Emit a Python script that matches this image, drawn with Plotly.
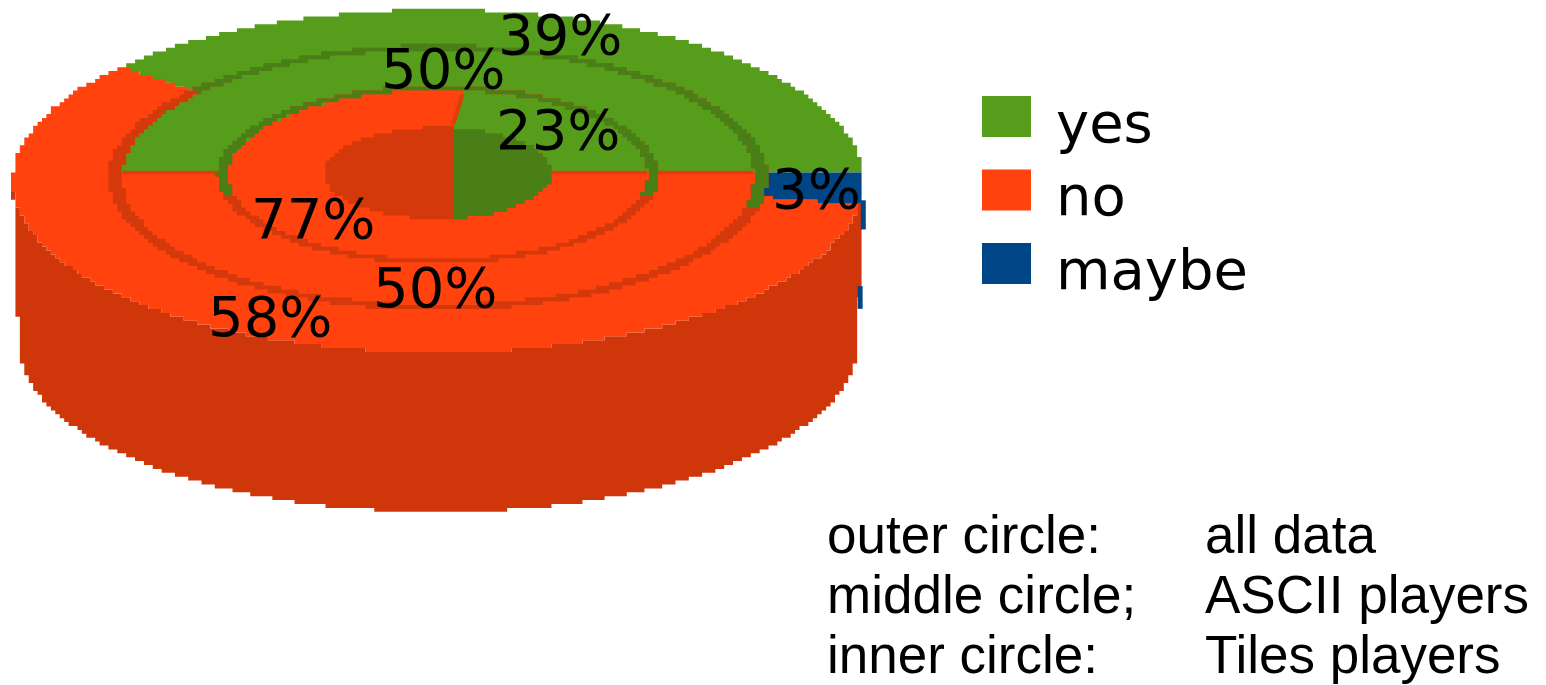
import numpy as np
import plotly.graph_objects as go

# ---- data ----
categories = ["yes", "no", "maybe"]
outer_values = [39, 58, 3]
middle_values = [50, 50, 0]
inner_values = [23, 77, 0]
note_left = ["outer circle:", "middle circle;", "inner circle:"]
note_right = ["all data", "ASCII players", "Tiles players"]

# ---- style ----
GREEN, RED, BLUE = "#579d1c", "#ff420e", "#004586"
DK_GREEN, DK_RED, WALL, CUT = "#4a7f17", "#d4390b", "#cf370a", "#e23c0c"
colors = {"yes": GREEN, "no": RED, "maybe": BLUE}

# ---- projection of the flat ring plane onto the picture ----
CX, CY, A, B, K = 438.0, 172.5, 171.0, 425.0, 0.0496
BOT_CY, BOT_A, BOT_B = 334.6, 168.6, 419.0
GX, GY, X0 = 4.43, 3.9, 11.0
R_HOLE, R_IN, R_MID, R_OUT = 0.268, 0.507, 0.758, 1.0
R_UNDER = 0.2
BAND = {R_IN: (0.492, 0.520), R_MID: (0.742, 0.775)}
EDGE_ANGLE = 92.8  # where the rim is widest


def project(deg, r, cy=CY, a=A, b=B):
    t = np.radians(deg)
    u, v = r * np.sin(t), -r * np.cos(t)
    w = 1 - K * v
    return CX + b * u / w, cy + a * v / w


def stair(x, y):
    xs = X0 + np.round((np.asarray(x) - X0) / GX) * GX
    ys = CY + np.round((np.asarray(y) - CY) / GY) * GY
    ox, oy = [xs[0]], [ys[0]]
    for px, py in zip(xs[1:], ys[1:]):
        if px != ox[-1] and py != oy[-1]:
            ox.append(px)
            oy.append(oy[-1])
        if px != ox[-1] or py != oy[-1]:
            ox.append(px)
            oy.append(py)
    return ox, oy


fig = go.Figure()


def poly(x, y, color, snap=True):
    if snap:
        x, y = stair(x, y)
    x, y = list(x), list(y)
    fig.add_trace(go.Scatter(x=x + [x[0]], y=y + [y[0]], mode="lines", fill="toself",
                             fillcolor=color, line=dict(width=0, color=color, simplify=False),
                             hoverinfo="skip", showlegend=False))


def wedge(a0, a1, r0, r1, color):
    ang = np.arange(a0, a1 + 0.1, 0.2)
    rad = np.linspace(r1, r0, 120)
    xo, yo = project(ang, r1)
    xe, ye = project(np.full(120, a1), rad)
    xi, yi = project(ang[::-1], r0)
    xs, ys = project(np.full(120, a0), rad[::-1])
    poly(np.r_[xo, xe, xi, xs], np.r_[yo, ye, yi, ys], color)


def cut(a, r0, r1, width=3.5, color=CUT):
    x0, y0 = project(a, r0)
    x1, y1 = project(a, r1)
    fig.add_trace(go.Scatter(x=[x0, x1], y=[y0, y1], mode="lines",
                             line=dict(color=color, width=width),
                             hoverinfo="skip", showlegend=False))


ang_all = np.arange(-180, 180.1, 0.2)

# side wall
ft = np.arange(EDGE_ANGLE, 360 - EDGE_ANGLE + 0.1, 0.2)
tx, ty = project(ft, R_OUT)
bx, by = project(ft[::-1], R_OUT, BOT_CY, BOT_A, BOT_B)
ts = np.linspace(0, 1, 60)
lx = tx[-1] + ts * (bx[0] - tx[-1])
ly = ty[-1] + ts * (by[0] - ty[-1])
rx = bx[-1] + ts * (tx[0] - bx[-1])
ry = by[-1] + ts * (ty[0] - by[-1])
poly(np.r_[tx, lx, bx, rx], np.r_[ty, ly, by, ry], WALL)


# the two blue slivers on the right edge of the wall
def sliver(t0, t1):
    ex0, ey0 = project(EDGE_ANGLE, R_OUT)
    ex1, ey1 = project(EDGE_ANGLE, R_OUT, BOT_CY, BOT_A, BOT_B)
    xa = ex0 + t0 * (ex1 - ex0)
    ya, yb = ey0 + t0 * (ey1 - ey0), ey0 + t1 * (ey1 - ey0)
    poly([xa - 2, xa + 3, xa + 3, xa - 2], [ya, ya, yb, yb], BLUE, snap=False)


sliver(0.12, 0.30)
sliver(0.65, 0.79)

# outer ring, clockwise: yes, maybe, no, ending where it began
yes_o = outer_values[0]
start_o = 90 - 3.6 * yes_o
o_end_may = 90 + 3.6 * outer_values[2]
wedge(start_o, 90, R_UNDER, R_OUT, GREEN)
wedge(90, o_end_may, R_UNDER, R_OUT, BLUE)
wedge(o_end_may, start_o + 360, R_UNDER, R_OUT, RED)

# walls between the outer and middle ring
b0, b1 = BAND[R_MID]
wedge(-180, 180, b0, b1, DK_RED)
wedge(start_o, 105, b0, b1, DK_GREEN)

# middle ring
wedge(-90, 90, R_UNDER, b0, GREEN)
wedge(90, 270, R_UNDER, b0, RED)
cut(90, R_IN, b0)
cut(270, R_IN, b0)

# walls between the middle and inner ring
b0i, b1i = BAND[R_IN]
wedge(-180, 180, b0i, b1i, DK_RED)
wedge(-105, 105, b0i, b1i, DK_GREEN)

# inner ring
start_i = 90 - 3.6 * inner_values[0]
wedge(start_i, 90, R_UNDER, b0i, GREEN)
wedge(90, start_i + 360, R_UNDER, b0i, RED)
cut(90, R_HOLE, b0i)
cut(start_i, R_HOLE + 0.02, b0i - 0.02, width=4)

# hole
hx, hy = project(ang_all, R_HOLE)
split = project(start_i, R_HOLE)[0] + 2
poly(hx, hy, DK_RED)
poly(np.maximum(hx, split), hy, DK_GREEN)


# percentage labels placed from the wedge mid-angles, with a small pixel nudge
def label(mid, r, text, dx=0, dy=0):
    x, y = project(mid, r)
    fig.add_annotation(x=float(x), y=float(y), text=text, showarrow=False,
                       xanchor="center", yanchor="middle", xshift=dx, yshift=-dy,
                       font=dict(family="DejaVu Sans", size=56, color="black"))


label((start_o + 90) / 2, 0.88, f"{outer_values[0]}%", 0, -2)
label((o_end_may + start_o + 360) / 2, 0.88, f"{outer_values[1]}%", -2, 2)
label((90 + o_end_may) / 2, 0.88, f"{outer_values[2]}%", 5, 2)
label(0, 0.63, f"{middle_values[0]}%", 5, 0)
label(180, 0.63, f"{middle_values[1]}%", -3, 4)
label((start_i + 90) / 2, 0.39, f"{inner_values[0]}%", -3, 1)
label((90 + start_i + 360) / 2, 0.39, f"{inner_values[1]}%", 1, 1)

# legend
for i, cat in enumerate(categories):
    top = 96 + 73.5 * i
    fig.add_shape(type="rect", x0=982, x1=1031, y0=top, y1=top + 41,
                  fillcolor=colors[cat], line=dict(width=0))
    fig.add_annotation(x=1054, y=top + 26, text=cat, showarrow=False,
                       xanchor="left", yanchor="middle",
                       font=dict(family="DejaVu Sans", size=56, color="black"))

# note
for i, (l, r) in enumerate(zip(note_left, note_right)):
    y = 534 + 60 * i
    for x, t in ((825, l), (1203, r)):
        fig.add_annotation(x=x, y=y, text=t, showarrow=False,
                           xanchor="left", yanchor="middle",
                           font=dict(family="Liberation Sans", size=53, color="black"))

fig.update_xaxes(range=[0, 1546], visible=False, fixedrange=True)
fig.update_yaxes(range=[685, 0], visible=False, fixedrange=True)
fig.update_layout(width=1546, height=685, margin=dict(l=0, r=0, t=0, b=0),
                  paper_bgcolor="white", plot_bgcolor="white", showlegend=False)
fig.write_html("out.html", config={"displayModeBar": False},
               post_script="document.body.style.margin='0';document.documentElement.style.overflow='hidden';")
